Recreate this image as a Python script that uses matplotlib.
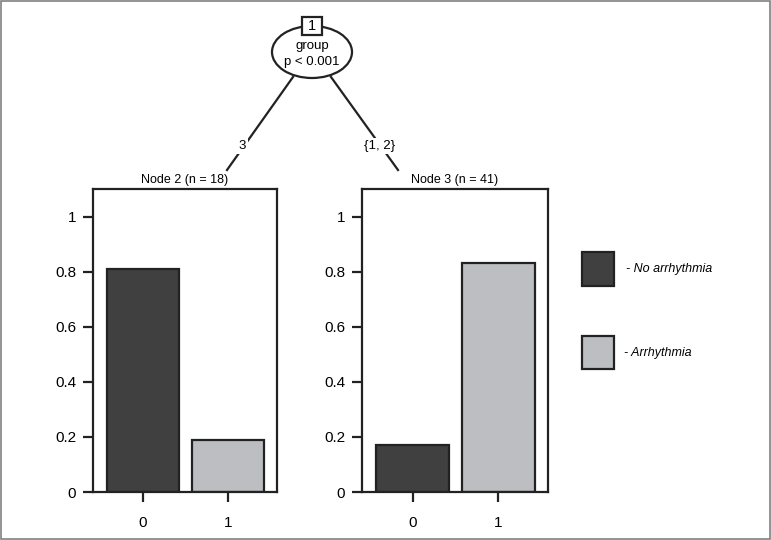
import matplotlib
matplotlib.use("Agg")
import matplotlib.pyplot as plt
from matplotlib.patches import Ellipse, Rectangle

plt.rcParams['font.family'] = ['Liberation Sans', 'DejaVu Sans']

# data
classes = ["0", "1"]
node2_vals = [0.81, 0.19]
node3_vals = [0.17, 0.83]
node_titles = ["Node 2 (n = 18)", "Node 3 (n = 41)"]
split_var = "group"
split_p = "p < 0.001"
edge_labels = ["3", "{1, 2}"]
legend_labels = ["- No arrhythmia", "- Arrhythmia"]

dark = "#404040"
light = "#bdbec2"
edge = "#222222"

W, H = 771, 540
fig = plt.figure(figsize=(W / 100, H / 100), dpi=100)

# overlay for the tree part, pixel coordinates
ov = fig.add_axes([0, 0, 1, 1])
ov.set_xlim(0, W)
ov.set_ylim(H, 0)
ov.axis("off")

# outer frame
ov.add_patch(Rectangle((0.5, 0.5), W - 1.5, H - 1.5, fill=False, ec="#808080", lw=1.2))

# split node
ov.plot([293, 227], [77, 170], color=edge, lw=1.6)
ov.plot([331, 398], [77, 170], color=edge, lw=1.6)
ov.add_patch(Ellipse((312, 52), 80, 52, fc="white", ec=edge, lw=1.6, zorder=3))
ov.add_patch(Rectangle((302, 17), 20, 18, fc="white", ec=edge, lw=1.6, zorder=4))
ov.text(312, 26.5, "1", ha="center", va="center", fontsize=10.5, zorder=5)
ov.text(312, 46, split_var, ha="center", va="center", fontsize=9.5, zorder=5)
ov.text(312, 62, split_p, ha="center", va="center", fontsize=9.5, zorder=5)
ov.text(242, 146, edge_labels[0], ha="center", va="center", fontsize=9.5,
        bbox=dict(fc="white", ec="none", pad=1.5), zorder=5)
ov.text(380, 146, edge_labels[1], ha="center", va="center", fontsize=9.5,
        bbox=dict(fc="white", ec="none", pad=1.5), zorder=5)

# legend
ov.add_patch(Rectangle((582, 252), 32, 34, fc=dark, ec=edge, lw=1.6))
ov.add_patch(Rectangle((582, 336), 32, 33, fc=light, ec=edge, lw=1.6))
ov.text(626, 269, legend_labels[0], ha="left", va="center", fontsize=9, style="italic")
ov.text(624, 353, legend_labels[1], ha="left", va="center", fontsize=9, style="italic")

# terminal node bar plots
panels = [(93, 184, node2_vals, node_titles[0]), (362, 186, node3_vals, node_titles[1])]
for x0, w, vals, title in panels:
    ax = fig.add_axes([x0 / W, 1 - 492 / H, w / W, 303 / H])
    ax.bar(range(len(classes)), vals, width=0.85, color=[dark, light], ec=edge, lw=1.6)
    ax.set_xlim(-0.59, 1.58)
    ax.set_ylim(0, 1.10)
    ax.set_yticks([0, 0.2, 0.4, 0.6, 0.8, 1])
    ax.set_yticklabels(["0", "0.2", "0.4", "0.6", "0.8", "1"])
    ax.set_xticks(range(len(classes)))
    ax.set_xticklabels(classes)
    for s in ax.spines.values():
        s.set_linewidth(1.6)
        s.set_color(edge)
    ax.tick_params(axis="both", length=7, width=1.6, color=edge, labelsize=11)
    ax.tick_params(axis="y", pad=5)
    ax.tick_params(axis="x", pad=10)
    ax.set_title(title, fontsize=9, pad=4)

fig.savefig("out.png", dpi=100)
